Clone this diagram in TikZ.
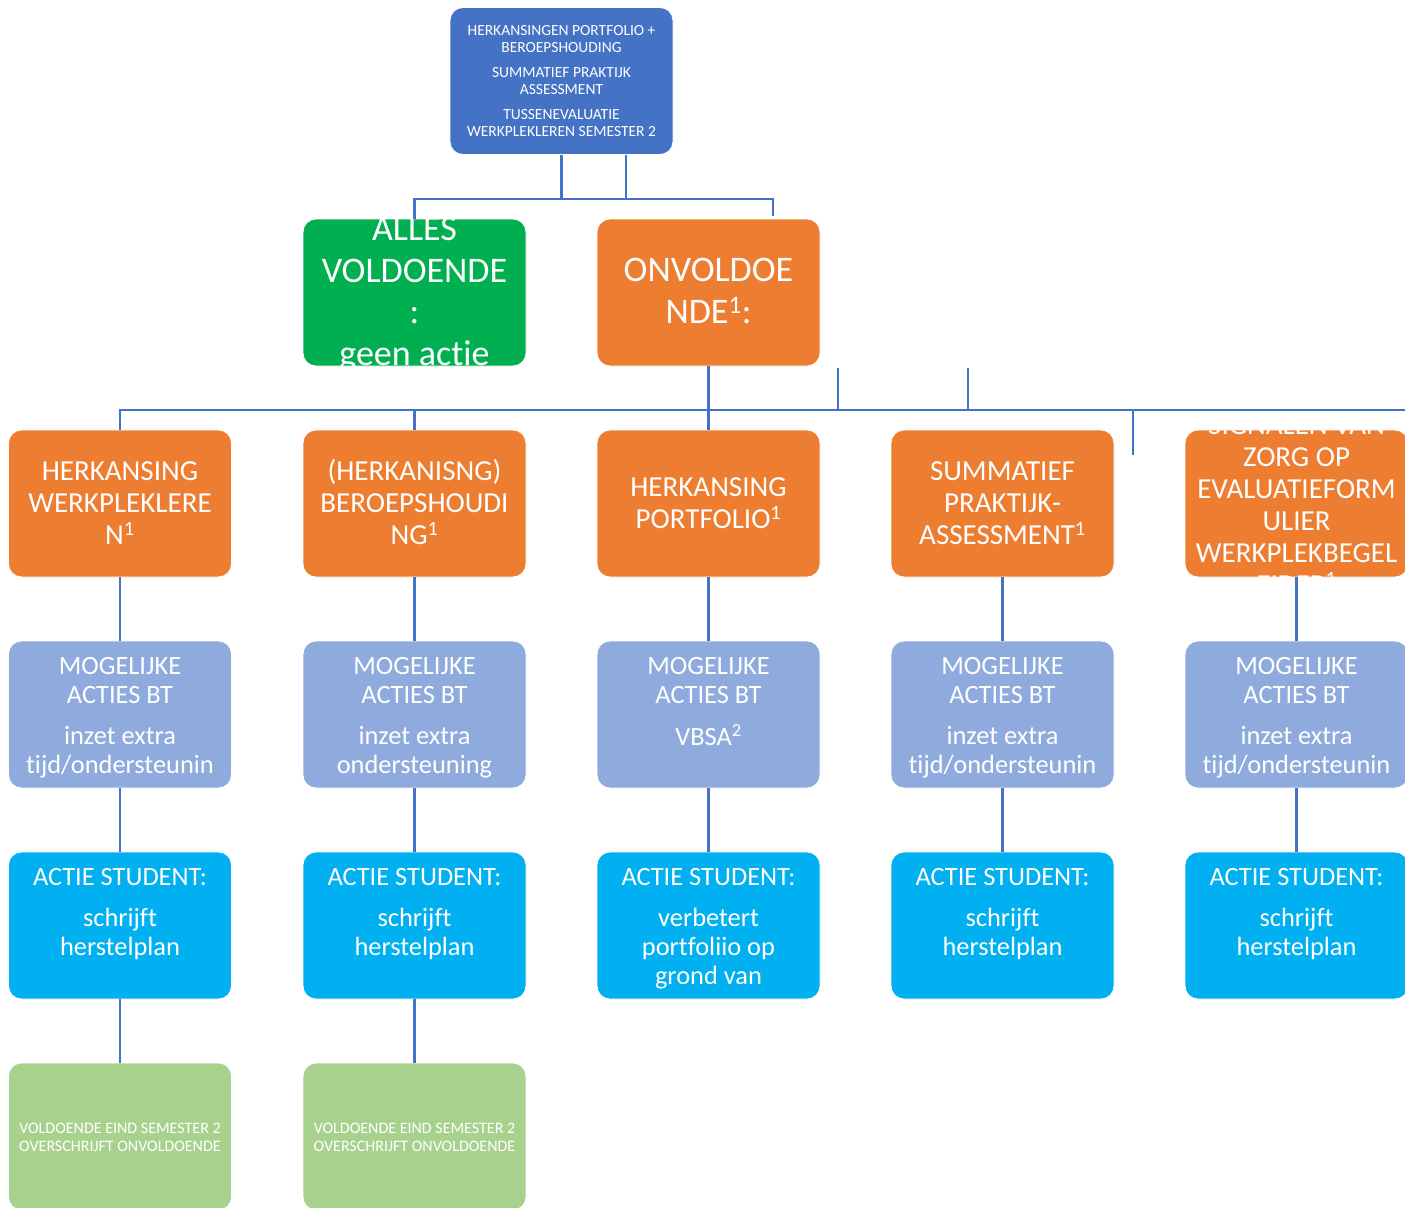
\documentclass[tikz,border=0pt]{standalone}
\usepackage{fontspec}
\setmainfont{Carlito}[Ligatures=CommonOff]
\definecolor{cTop}{HTML}{4472C4}
\definecolor{cGreen}{HTML}{00B050}
\definecolor{cOrange}{HTML}{ED7D31}
\definecolor{cLblue}{HTML}{8FAADC}
\definecolor{cCyan}{HTML}{00B0F0}
\definecolor{cLgreen}{HTML}{A9D18E}
\definecolor{cLine}{HTML}{4472C4}
\tikzset{
  box/.style={rounded corners=13pt, minimum width=223pt, minimum height=147pt, inner sep=0pt, draw=white, line width=0.8pt},
  txt/.style={text=white, inner sep=0pt},
  conn/.style={draw=cLine, line width=2.6pt},
  fTop/.style={font=\fontsize{15.5}{17}\selectfont},
  fBig/.style={font=\fontsize{36}{41.5}\selectfont},
  fOr/.style={font=\fontsize{29}{32}\selectfont},
  fMid/.style={font=\fontsize{26.4}{29}\selectfont},
  fSm/.style={font=\fontsize{16}{18}\selectfont},
}
\newcommand{\tbox}[7]{%
  \node[box, fill=#4] (#1) at (#2,#3) {};
  \begin{scope}
    \clip[rounded corners=13pt] (#1.south west) rectangle (#1.north east);
    \node[txt, #5, anchor=base] (#1t) at (#2,#6) {\begin{tabular}[t]{@{}c@{}}#7\end{tabular}};
  \end{scope}}
\begin{document}
\begin{tikzpicture}[x=1pt,y=-1pt]
\useasboundingbox (0,0) rectangle (1405,1207);
\clip (0,0) rectangle (1405,1207);

% top
\tbox{top}{561.5}{81}{cTop}{fTop}{35.5}{HERKANSINGEN PORTFOLIO +\\BEROEPSHOUDING\\[8pt]SUMMATIEF PRAKTIJK\\ASSESSMENT\\[8pt]TUSSENEVALUATIE\\WERKPLEKLEREN SEMESTER 2}

% level 2
\tbox{green}{414.5}{292.5}{cGreen}{fBig}{240.5}{ALLES\\VOLDOENDE\\:\\geen actie}
\tbox{onv}{708.5}{292.5}{cOrange}{fBig}{281.5}{ONVOLDOE\\NDE\textsuperscript{1}:}

% row orange
\tbox{h1}{120}{503.5}{cOrange}{fOr}{480.3}{HERKANSING\\WERKPLEKLERE\\N\textsuperscript{1}}
\tbox{h2}{414.5}{503.5}{cOrange}{fOr}{480.3}{(HERKANISNG)\\BEROEPSHOUDI\\NG\textsuperscript{1}}
\tbox{h3}{708.5}{503.5}{cOrange}{fOr}{496.3}{HERKANSING\\PORTFOLIO\textsuperscript{1}}
\tbox{h4}{1002.5}{503.5}{cOrange}{fOr}{480.3}{SUMMATIEF\\PRAKTIJK-\\ASSESSMENT\textsuperscript{1}}
\tbox{h5}{1296.5}{503.5}{cOrange}{fOr}{434.5}{SIGNALEN VAN\\ZORG OP\\EVALUATIEFORM\\ULIER\\WERKPLEKBEGEL\\EIDER\textsuperscript{1}}

% row light blue
\tbox{m1}{120}{714.5}{cLblue}{fMid}{674.5}{MOGELIJKE\\ACTIES BT\\[12pt]inzet extra\\tijd/ondersteunin}
\tbox{m2}{414.5}{714.5}{cLblue}{fMid}{674.5}{MOGELIJKE\\ACTIES BT\\[12pt]inzet extra\\ondersteuning}
\tbox{m3}{708.5}{714.5}{cLblue}{fMid}{674.5}{MOGELIJKE\\ACTIES BT\\[12pt]VBSA\textsuperscript{2}}
\tbox{m4}{1002.5}{714.5}{cLblue}{fMid}{674.5}{MOGELIJKE\\ACTIES BT\\[12pt]inzet extra\\tijd/ondersteunin}
\tbox{m5}{1296.5}{714.5}{cLblue}{fMid}{674.5}{MOGELIJKE\\ACTIES BT\\[12pt]inzet extra\\tijd/ondersteunin}

% row cyan
\tbox{a1}{120}{925.5}{cCyan}{fMid}{885.5}{ACTIE STUDENT:\\[12pt]schrijft\\herstelplan}
\tbox{a2}{414.5}{925.5}{cCyan}{fMid}{885.5}{ACTIE STUDENT:\\[12pt]schrijft\\herstelplan}
\tbox{a3}{708.5}{925.5}{cCyan}{fMid}{885.5}{ACTIE STUDENT:\\[12pt]verbetert\\portfoliio op\\grond van}
\tbox{a4}{1002.5}{925.5}{cCyan}{fMid}{885.5}{ACTIE STUDENT:\\[12pt]schrijft\\herstelplan}
\tbox{a5}{1296.5}{925.5}{cCyan}{fMid}{885.5}{ACTIE STUDENT:\\[12pt]schrijft\\herstelplan}

% row light green
\tbox{g1}{120}{1136.5}{cLgreen}{fSm}{1133}{VOLDOENDE EIND SEMESTER 2\\OVERSCHRIJFT ONVOLDOENDE}
\tbox{g2}{414.5}{1136.5}{cLgreen}{fSm}{1133}{VOLDOENDE EIND SEMESTER 2\\OVERSCHRIJFT ONVOLDOENDE}

% connectors top
\coordinate (topR) at (626,155);
\coordinate (jL) at (414.5,199);
\coordinate (jR) at (773,199);
\coordinate (jRe) at (773,216);
\draw[conn] (top.south) -- (top.south |- jL);
\draw[conn] (topR) -- (topR |- jL);
\draw[conn] (green.north) |- (jR) -- (jRe);

% connectors row 2
\coordinate (hL) at (120,410);
\coordinate (hR) at (1405,410);
\coordinate (s1) at (838,368);
\coordinate (s2) at (968,368);
\coordinate (s3) at (1133,455);
\draw[conn] (h1.north) -- (h1.north |- hL) -- (hR);
\draw[conn] (h2.north) -- (h2.north |- hL);
\draw[conn] (onv.south) -- (h3.north);
\draw[conn] (s1) -- (s1 |- hL);
\draw[conn] (s2) -- (s2 |- hL);
\draw[conn] (s3) -- (s3 |- hL);

% column connectors
\foreach \i in {1,...,5} {
  \draw[conn] (h\i.south) -- (m\i.north);
  \draw[conn] (m\i.south) -- (a\i.north);
}
\draw[conn] (a1.south) -- (g1.north);
\draw[conn] (a2.south) -- (g2.north);
\end{tikzpicture}
\end{document}
